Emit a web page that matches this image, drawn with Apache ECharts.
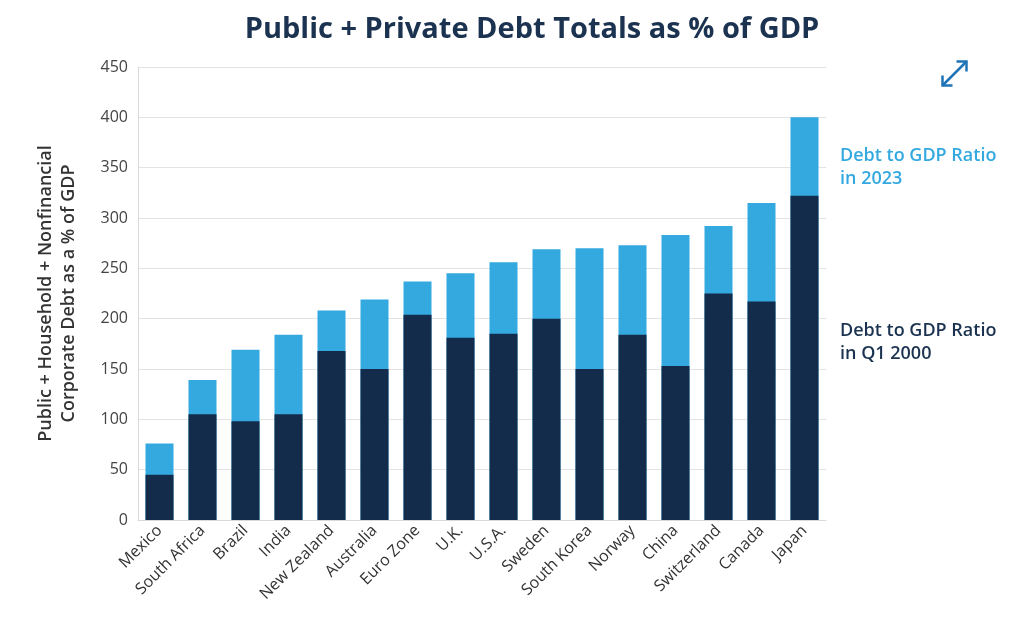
<!DOCTYPE html>
<html>
<head>
<meta charset="utf-8">
<script src="https://cdn.jsdelivr.net/npm/echarts@6/dist/echarts.min.js"></script>
<style>html,body{margin:0;padding:0;background:#fff}#c{width:1022px;height:618px}</style>
</head>
<body>
<div id="c"></div>
<script>
const categories = ['Mexico','South Africa','Brazil','India','New Zealand','Australia','Euro Zone','U.K.','U.S.A.','Sweden','South Korea','Norway','China','Switzerland','Canada','Japan'];
const debt2023 = [76, 139, 169, 184, 208, 219, 237, 245, 256, 269, 270, 273, 283, 292, 315, 400];
const debtQ12000 = [45, 105, 98, 105, 168, 150, 204, 181, 185, 200, 150, 184, 153, 225, 217, 322];
const yTicks = [0, 50, 100, 150, 200, 250, 300, 350, 400, 450];

const chart = echarts.init(document.getElementById('c'));
const FONT = 'Open Sans';
chart.setOption({
  animation: false,
  title: {
    text: 'Public + Private Debt Totals as % of GDP',
    left: 527, top: 10, textAlign: 'center',
    textStyle: {fontFamily: FONT, fontSize: 29, fontWeight: 'bold', color: '#1b3350'}
  },
  grid: {left: 138, right: 196, top: 67, bottom: 98, containLabel: false},
  xAxis: {
    type: 'category', data: categories,
    axisLine: {lineStyle: {color: '#d9d9d9'}},
    axisTick: {show: false},
    axisLabel: {rotate: 45, interval: 0, fontFamily: FONT, fontSize: 16, color: '#333', margin: 8}
  },
  yAxis: {
    type: 'value', min: yTicks[0], max: yTicks[yTicks.length - 1], interval: 50,
    name: 'Public + Household + Nonfinancial\nCorporate Debt as a % of GDP',
    nameLocation: 'middle', nameGap: 58, nameRotate: 90,
    nameTextStyle: {fontFamily: FONT, fontSize: 18, fontWeight: 600, color: '#333', lineHeight: 23},
    axisLine: {show: true, lineStyle: {color: '#d9d9d9'}},
    axisTick: {show: false},
    axisLabel: {fontFamily: FONT, fontSize: 16, color: '#444', margin: 10},
    splitLine: {lineStyle: {color: '#e3e3e3'}}
  },
  series: [
    {name: 'Debt to GDP Ratio in 2023', type: 'bar', data: debt2023, barWidth: 28, barGap: '-100%',
     itemStyle: {color: '#33a9e0'}},
    {name: 'Debt to GDP Ratio in Q1 2000', type: 'bar', data: debtQ12000, barWidth: 28, barGap: '-100%',
     itemStyle: {color: '#142c4b'}}
  ],
  graphic: [
    {type: 'text', left: 840, top: 144, style: {text: 'Debt to GDP Ratio\nin 2023', fill: '#33a9e0', font: '600 18px "Open Sans"', lineHeight: 23}},
    {type: 'text', left: 840, top: 319, style: {text: 'Debt to GDP Ratio\nin Q1 2000', fill: '#1b3350', font: '600 18px "Open Sans"', lineHeight: 23}},
    {type: 'group', left: 940, top: 59, children: [
      {type: 'polyline', shape: {points: [[2, 25], [26, 1]]}, style: {stroke: '#1f73b7', lineWidth: 2.5, fill: null}},
      {type: 'polyline', shape: {points: [[2, 15], [2, 25], [12, 25]]}, style: {stroke: '#1f73b7', lineWidth: 2.5, fill: null}},
      {type: 'polyline', shape: {points: [[16, 1], [26, 1], [26, 11]]}, style: {stroke: '#1f73b7', lineWidth: 2.5, fill: null}}
    ]}
  ]
});
</script>
</body>
</html>
